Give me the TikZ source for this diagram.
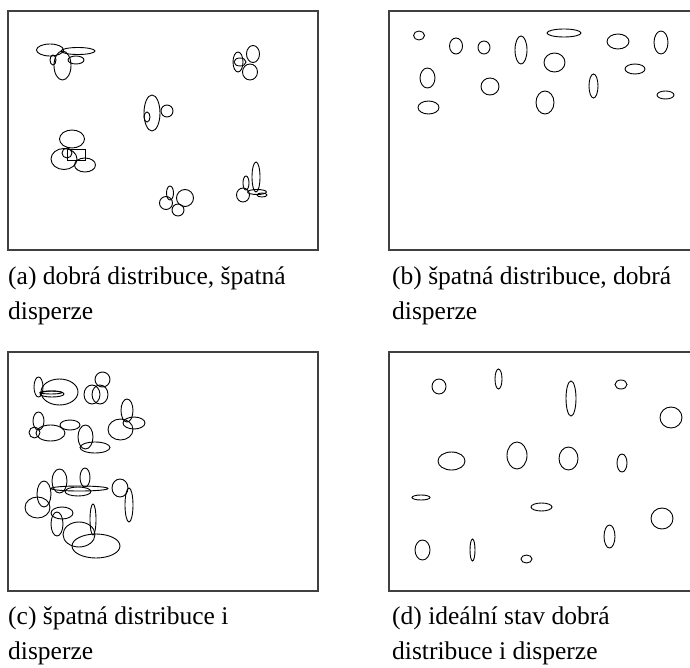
\documentclass[tikz,border=0pt]{standalone}
\usepackage{fontspec}
\setmainfont{Liberation Serif}
\begin{document}
\begin{tikzpicture}[x=1pt,y=-1pt,
  frame/.style={draw=black!75,line width=1.3pt},
  blob/.style={draw=black,line width=0.9pt},
  captext/.style={anchor=base west,inner sep=0pt,font=\fontsize{25.5}{30}\selectfont}]
\clip (0,0) rectangle (690,668);
\fill[white] (0,0) rectangle (690,668);
% frames
\draw[frame] (8,11) rectangle (318,250);
\draw[frame] (389,11) rectangle (700,250);
\draw[frame] (8,352) rectangle (318,591);
\draw[frame] (389,352) rectangle (700,591);
% ---------- panel a ----------
\draw[blob] (50,50) ellipse [x radius=13.5,y radius=6];
\draw[blob] (78,51) ellipse [x radius=17,y radius=3.5];
\draw[blob] (76,60) ellipse [x radius=8,y radius=4];
\draw[blob] (53,60) ellipse [x radius=3,y radius=5];
\draw[blob] (62.5,65.5) ellipse [x radius=8.5,y radius=14.5];
\draw[blob] (152,113) ellipse [x radius=8,y radius=18];
\draw[blob] (167,111) ellipse [x radius=6,y radius=6];
\draw[blob] (147,117) ellipse [x radius=3,y radius=5];
\draw[blob] (253,54) ellipse [x radius=6.5,y radius=8.5];
\draw[blob] (238,62) ellipse [x radius=5,y radius=10];
\draw[blob] (240,62) ellipse [x radius=6,y radius=4];
\draw[blob] (250,72) ellipse [x radius=7.5,y radius=8];
\draw[blob] (72,139) ellipse [x radius=12.5,y radius=9];
\draw[blob] (64,159) ellipse [x radius=13,y radius=10.5];
\draw[blob] (85,165) ellipse [x radius=10.5,y radius=7];
\draw[blob] (67,149) rectangle (85,160);
\draw[blob] (67,153) ellipse [x radius=5,y radius=5];
\draw[blob] (170,193) ellipse [x radius=3.5,y radius=7];
\draw[blob] (185,198) ellipse [x radius=8.5,y radius=8.5];
\draw[blob] (166,203) ellipse [x radius=6.5,y radius=6.5];
\draw[blob] (178,210) ellipse [x radius=6,y radius=6];
\draw[blob] (256,177) ellipse [x radius=4,y radius=15];
\draw[blob] (246,183) ellipse [x radius=3,y radius=7];
\draw[blob] (243,195) ellipse [x radius=6.5,y radius=7];
\draw[blob] (257,192) ellipse [x radius=9.5,y radius=2.5];
\draw[blob] (262,195) ellipse [x radius=5,y radius=2];
% ---------- panel b ----------
\draw[blob] (419,35.5) ellipse [x radius=5.5,y radius=4.5];
\draw[blob] (456,46) ellipse [x radius=6.5,y radius=8];
\draw[blob] (484,47.5) ellipse [x radius=6,y radius=6.5];
\draw[blob] (521,50) ellipse [x radius=6,y radius=14];
\draw[blob] (564,33) ellipse [x radius=17,y radius=4];
\draw[blob] (554.5,62.5) ellipse [x radius=10.5,y radius=9.5];
\draw[blob] (618,41.5) ellipse [x radius=11,y radius=7.5];
\draw[blob] (661,42.5) ellipse [x radius=7,y radius=11.5];
\draw[blob] (635,69) ellipse [x radius=10,y radius=5];
\draw[blob] (427.5,78) ellipse [x radius=7.5,y radius=10];
\draw[blob] (490,86.5) ellipse [x radius=9,y radius=8.5];
\draw[blob] (593.5,86) ellipse [x radius=4.5,y radius=12];
\draw[blob] (665.5,95) ellipse [x radius=8.5,y radius=4];
\draw[blob] (545,102.5) ellipse [x radius=9,y radius=11.5];
\draw[blob] (428.5,107.5) ellipse [x radius=10.5,y radius=6.5];
% ---------- panel c ----------
\draw[blob] (59.5,392) ellipse [x radius=18.5,y radius=13];
\draw[blob] (38.5,387) ellipse [x radius=4.5,y radius=10];
\draw[blob] (52,394) ellipse [x radius=12,y radius=3];
\draw[blob] (51,392.5) ellipse [x radius=11,y radius=1.5];
\draw[blob] (92,394.5) ellipse [x radius=8,y radius=9.5];
\draw[blob] (100,394.5) ellipse [x radius=8,y radius=9.5];
\draw[blob] (102.5,379.5) ellipse [x radius=7.5,y radius=7.5];
\draw[blob] (38.5,421) ellipse [x radius=5.5,y radius=9];
\draw[blob] (34.5,432.5) ellipse [x radius=5.5,y radius=5.5];
\draw[blob] (50.5,433) ellipse [x radius=14.5,y radius=8];
\draw[blob] (70,425) ellipse [x radius=10,y radius=5];
\draw[blob] (85.5,437) ellipse [x radius=7.5,y radius=12];
\draw[blob] (95,447.5) ellipse [x radius=15,y radius=5.5];
\draw[blob] (120.5,429.5) ellipse [x radius=12.5,y radius=10.5];
\draw[blob] (127,410.5) ellipse [x radius=6,y radius=11.5];
\draw[blob] (134,423) ellipse [x radius=11,y radius=6];
\draw[blob] (59.5,481) ellipse [x radius=7.5,y radius=12];
\draw[blob] (85,477.5) ellipse [x radius=5,y radius=9.5];
\draw[blob] (79.5,488.5) ellipse [x radius=28.5,y radius=2.5];
\draw[blob] (78,491.5) ellipse [x radius=13,y radius=4.5];
\draw[blob] (44,494) ellipse [x radius=7,y radius=13];
\draw[blob] (37.5,507.5) ellipse [x radius=12.5,y radius=10.5];
\draw[blob] (120,488) ellipse [x radius=8,y radius=9];
\draw[blob] (129,505) ellipse [x radius=4,y radius=17];
\draw[blob] (62,513) ellipse [x radius=11,y radius=6];
\draw[blob] (57,524) ellipse [x radius=6,y radius=12];
\draw[blob] (93,519.5) ellipse [x radius=3,y radius=15.5];
\draw[blob] (79,534.5) ellipse [x radius=16,y radius=12.5];
\draw[blob] (96,546) ellipse [x radius=24,y radius=12];
% ---------- panel d ----------
\draw[blob] (439,386.5) ellipse [x radius=7,y radius=7.5];
\draw[blob] (498.5,379) ellipse [x radius=3.5,y radius=10];
\draw[blob] (571,398.5) ellipse [x radius=5,y radius=17.5];
\draw[blob] (621,384.5) ellipse [x radius=6,y radius=4.5];
\draw[blob] (671,417.5) ellipse [x radius=11,y radius=10.5];
\draw[blob] (451.5,461) ellipse [x radius=13.5,y radius=9];
\draw[blob] (517,455.5) ellipse [x radius=10,y radius=13.5];
\draw[blob] (568.5,458.5) ellipse [x radius=9.5,y radius=11.5];
\draw[blob] (622,463) ellipse [x radius=5,y radius=9];
\draw[blob] (421,497.5) ellipse [x radius=9,y radius=2.5];
\draw[blob] (541.5,507) ellipse [x radius=10.5,y radius=4];
\draw[blob] (662,518.5) ellipse [x radius=11,y radius=10.5];
\draw[blob] (609.5,536.5) ellipse [x radius=5.5,y radius=11.5];
\draw[blob] (422.5,550) ellipse [x radius=7.5,y radius=10];
\draw[blob] (472.5,550) ellipse [x radius=2.5,y radius=11];
\draw[blob] (526.5,559) ellipse [x radius=5.5,y radius=4];
% ---------- captions ----------
\node[captext] (capa1) at (8,284) {(a) dobrá distribuce, špatná};
\node[captext] (capa2) at (8,319) {disperze};
\node[captext] (capb1) at (392,284) {(b) špatná distribuce, dobrá};
\node[captext] (capb2) at (392,319) {disperze};
\node[captext] (capc1) at (8,624) {(c) špatná distribuce i};
\node[captext] (capc2) at (8,659) {disperze};
\node[captext] (capd1) at (392,624) {(d) ideální stav dobrá};
\node[captext] (capd2) at (392,659) {distribuce i disperze};
\end{tikzpicture}
\end{document}
